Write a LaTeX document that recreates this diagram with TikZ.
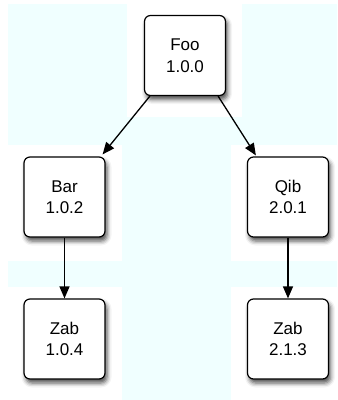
\documentclass[tikz,border=0pt]{standalone}
\usepackage{fontspec}
\setmainfont{Liberation Sans}
\usetikzlibrary{shadows.blur,arrows.meta}
\definecolor{bgcyan}{RGB}{240,255,255}
\begin{document}
\begin{tikzpicture}[x=1pt,y=-1pt,
  pkg/.style={draw=black, line width=1.2pt, fill=white, rounded corners=6pt,
    minimum width=81pt, minimum height=80pt, align=center, inner sep=0pt,
    font=\fontsize{17}{21.5}\selectfont,
    blur shadow={shadow xshift=2pt, shadow yshift=-4pt, shadow blur radius=4.5pt, shadow opacity=70}},
  dep/.style={-{Triangle[length=12pt,width=10pt]}, line width=1.3pt},
  bg/.style={fill=bgcyan, draw=none}]
\useasboundingbox (0,0) rectangle (338,400);
% background cells
\fill[bg] (8,4) rectangle (127,145);
\fill[bg] (242,4) rectangle (337,145);
\fill[bg] (8,117) rectangle (337,145);
\fill[bg] (122,117) rectangle (231,400);
\fill[bg] (8,261) rectangle (337,287);
% nodes
\node[pkg] (foo)  at (185,55.5) {Foo\\1.0.0};
\node[pkg] (bar)  at (64.5,197) {Bar\\1.0.2};
\node[pkg] (qib)  at (288,197)  {Qib\\2.0.1};
\node[pkg] (zab1) at (64.5,339) {Zab\\1.0.4};
\node[pkg] (zab2) at (288,339)  {Zab\\2.1.3};
% connectors
\draw[dep] ([xshift=6pt]foo.south west) -- ([shift={(-3pt,2pt)}]bar.north east);
\draw[dep] ([xshift=-8pt]foo.south east) -- ([shift={(9pt,1pt)}]qib.north west);
\draw[dep] (bar.south) -- (zab1.north);
\draw[dep] (qib.south) -- (zab2.north);
\end{tikzpicture}
\end{document}
